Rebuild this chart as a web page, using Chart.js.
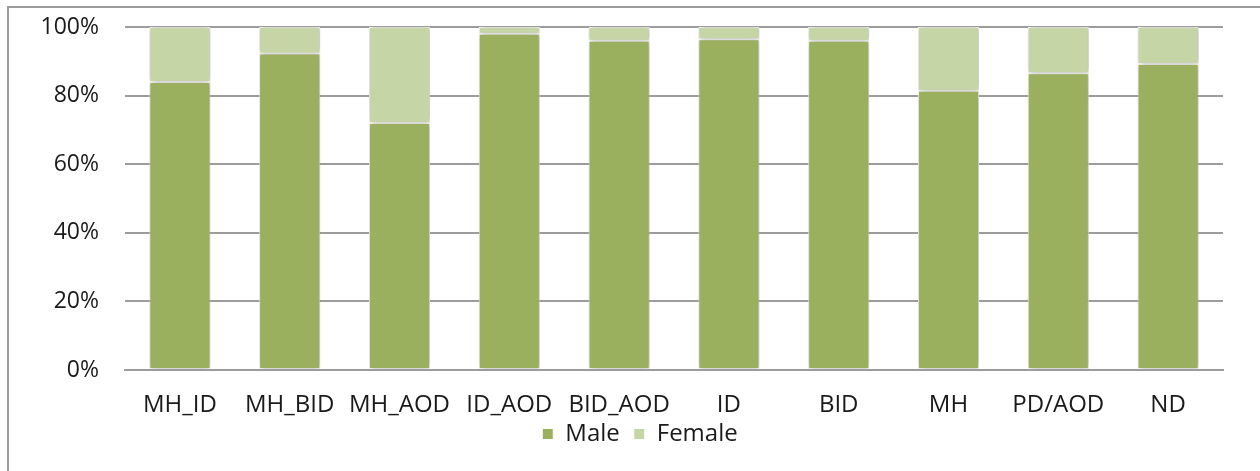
<!DOCTYPE html>
<html>
<head>
<meta charset="utf-8">
<script src="https://cdn.jsdelivr.net/npm/chart.js@4/dist/chart.umd.min.js"></script>
<style>
  html, body { margin: 0; padding: 0; background: #ffffff; }
  #wrap { width: 1260px; height: 471px; position: relative; }
</style>
</head>
<body>
<div id="wrap"><canvas id="chart"></canvas></div>
<script>
// Categories and shares (percent) per group
const categories = ['MH_ID', 'MH_BID', 'MH_AOD', 'ID_AOD', 'BID_AOD', 'ID', 'BID', 'MH', 'PD/AOD', 'ND'];
const maleShare = [84, 92.3, 72, 98, 96, 96.4, 96, 81.4, 86.5, 89.2];
const femaleShare = [16, 7.7, 28, 2, 4, 3.6, 4, 18.6, 13.5, 10.8];
const yTicks = [0, 20, 40, 60, 80, 100];

const FONT = "'Open Sans', Lato, sans-serif";
const GRID = '#9c9c9c';

// Outer frame of the chart box (left and top edges)
const framePlugin = {
  id: 'frame',
  beforeDraw(chart) {
    const ctx = chart.ctx;
    ctx.save();
    ctx.strokeStyle = GRID;
    ctx.lineWidth = 2;
    ctx.beginPath();
    ctx.moveTo(8, chart.height);
    ctx.lineTo(8, 7);
    ctx.lineTo(chart.width, 7);
    ctx.stroke();
    ctx.restore();
  }
};

// Soft drop shadow behind the bars
const shadowPlugin = {
  id: 'barShadow',
  beforeDatasetsDraw(chart) {
    const ctx = chart.ctx;
    ctx.save();
    ctx.shadowColor = 'rgba(0,0,0,0.35)';
    ctx.shadowBlur = 6;
    ctx.shadowOffsetX = 1;
    ctx.shadowOffsetY = 0;
  },
  afterDatasetsDraw(chart) {
    chart.ctx.restore();
  }
};

// Let tick labels draw outside the scale box instead of being clipped to it
const noLabelClip = scale => { scale._computeLabelArea = () => null; };

new Chart(document.getElementById('chart'), {
  type: 'bar',
  data: {
    labels: categories,
    datasets: [
      {
        label: 'Male',
        data: maleShare,
        backgroundColor: '#9bb05e',
        borderColor: '#ffffff',
        borderWidth: 1,
        borderSkipped: false
      },
      {
        label: 'Female',
        data: femaleShare,
        backgroundColor: '#c5d5a6',
        borderColor: '#ffffff',
        borderWidth: 1,
        borderSkipped: false
      }
    ]
  },
  options: {
    responsive: true,
    maintainAspectRatio: false,
    animation: false,
    devicePixelRatio: 1,
    layout: { padding: { left: 57, right: 37, top: 27, bottom: 15 } },
    datasets: { bar: { categoryPercentage: 1, barPercentage: 0.556 } },
    scales: {
      x: {
        stacked: true,
        grid: { display: false, drawTicks: false },
        border: { display: true, color: GRID, width: 2 },
        ticks: { color: '#1a1a1a', font: { family: FONT, size: 24 }, padding: 21, maxRotation: 0, autoSkip: false },
        afterFit(scale) { scale.height = 38; noLabelClip(scale); }
      },
      y: {
        stacked: true,
        min: 0,
        max: 100,
        afterBuildTicks(scale) { scale.ticks = yTicks.map(v => ({ value: v })); },
        grid: { color: GRID, lineWidth: 2, drawTicks: false },
        border: { display: false },
        ticks: {
          color: '#1a1a1a',
          font: { family: FONT, size: 23 },
          padding: 26,
          callback: v => v + '%'
        },
        afterFit(scale) {
          scale.width = 68;
          scale.paddingTop = 0;
          scale.paddingBottom = 0;
          noLabelClip(scale);
        }
      }
    },
    plugins: {
      legend: {
        position: 'bottom',
        labels: {
          color: '#1a1a1a',
          font: { family: FONT, size: 24 },
          boxWidth: 11,
          boxHeight: 11,
          padding: 14
        }
      },
      tooltip: { enabled: false }
    }
  },
  plugins: [framePlugin, shadowPlugin]
});
</script>
</body>
</html>
